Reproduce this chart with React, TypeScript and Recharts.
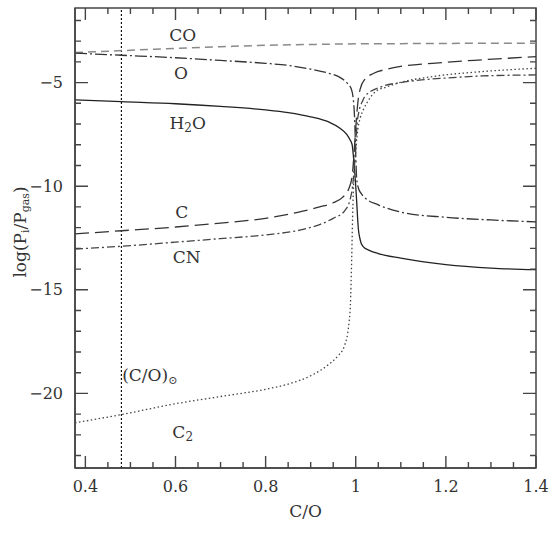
import React from 'react';
import { LineChart, Line, XAxis, YAxis, ReferenceLine, ReferenceDot, ReferenceArea } from 'recharts';

// ---- data (C/O ratio vs log partial pressure) ----
const coX = [0.377, 0.5, 0.6, 0.7, 0.8, 0.9, 1.0, 1.1, 1.2, 1.3, 1.4];
const coY = [-3.55, -3.44, -3.35, -3.27, -3.2, -3.16, -3.13, -3.12, -3.11, -3.1, -3.1];

const oX = [0.377, 0.48, 0.6, 0.7, 0.8, 0.85, 0.9, 0.94, 0.965, 0.98, 0.99, 0.995, 0.998, 1.0, 1.002, 1.006, 1.012, 1.02, 1.05, 1.1, 1.2, 1.3, 1.4];
const oY = [-3.58, -3.68, -3.8, -3.93, -4.07, -4.17, -4.35, -4.55, -4.75, -5.0, -5.3, -5.9, -7.0, -8.5, -9.6, -10.1, -10.35, -10.55, -10.9, -11.25, -11.5, -11.63, -11.72];

const h2oX = [0.377, 0.48, 0.6, 0.7, 0.8, 0.85, 0.9, 0.94, 0.965, 0.98, 0.987, 0.992, 0.995, 0.998, 1.0, 1.002, 1.004, 1.006, 1.009, 1.012, 1.016, 1.03, 1.05, 1.1, 1.2, 1.3, 1.4];
const h2oY = [-5.83, -5.92, -6.02, -6.15, -6.32, -6.45, -6.65, -6.9, -7.2, -7.5, -7.75, -8.0, -8.6, -9.4, -10.0, -10.7, -11.5, -12.1, -12.5, -12.75, -12.9, -13.1, -13.25, -13.47, -13.78, -13.95, -14.03];

const cX = [0.377, 0.48, 0.6, 0.7, 0.8, 0.88, 0.92, 0.95, 0.97, 0.985, 0.992, 0.996, 0.999, 1.002, 1.005, 1.01, 1.02, 1.04, 1.07, 1.1, 1.17, 1.28, 1.4];
const cY = [-12.3, -12.15, -11.97, -11.78, -11.55, -11.22, -11.0, -10.8, -10.55, -10.1, -9.5, -8.5, -7.5, -6.6, -5.9, -5.3, -4.85, -4.55, -4.35, -4.22, -4.07, -3.9, -3.75];

const cnX = [0.377, 0.48, 0.6, 0.7, 0.8, 0.88, 0.92, 0.95, 0.975, 0.988, 0.993, 0.997, 1.0, 1.003, 1.008, 1.015, 1.02, 1.058, 1.1, 1.146, 1.2, 1.28, 1.4];
const cnY = [-13.03, -12.9, -12.7, -12.53, -12.35, -12.1, -11.85, -11.55, -11.2, -10.6, -10.0, -9.0, -8.0, -7.0, -6.3, -5.9, -5.67, -5.19, -5.0, -4.87, -4.78, -4.68, -4.63];

const c2X = [0.377, 0.48, 0.6, 0.7, 0.8, 0.85, 0.9, 0.94, 0.96, 0.975, 0.985, 0.988, 0.991, 0.993, 0.996, 1.0, 1.005, 1.01, 1.017, 1.03, 1.043, 1.07, 1.093, 1.17, 1.28, 1.4];
const c2Y = [-21.42, -21.02, -20.5, -20.15, -19.8, -19.55, -19.15, -18.6, -18.2, -17.7, -16.6, -15.8, -13.5, -11.5, -9.5, -8.3, -7.2, -6.7, -6.3, -5.8, -5.45, -5.2, -5.03, -4.71, -4.47, -4.31];

const solarCO = 0.48;

const xMajorTicks = [0.4, 0.6, 0.8, 1, 1.2, 1.4];
const xAllTicks = [0.4, 0.45, 0.5, 0.55, 0.6, 0.65, 0.7, 0.75, 0.8, 0.85, 0.9, 0.95, 1, 1.05, 1.1, 1.15, 1.2, 1.25, 1.3, 1.35, 1.4];
const yMajorTicks = [-20, -15, -10, -5];
const yAllTicks = [-23, -22, -21, -20, -19, -18, -17, -16, -15, -14, -13, -12, -11, -10, -9, -8, -7, -6, -5, -4, -3, -2];

const xDomain = [0.377, 1.4];
const yDomain = [-23.6, -1.4];

const labelPos = {
  CO: [0.616, -2.7],
  O: [0.612, -4.53],
  H2O: [0.627, -6.95],
  C: [0.614, -11.24],
  CN: [0.625, -13.4],
  solar: [0.543, -19.1],
  C2: [0.616, -21.86],
};

const zip = (xs: number[], ys: number[]) => xs.map((x, i) => ({ x, y: ys[i] }));

const FONT = '"DejaVu Serif", "Liberation Serif", serif';
const TXT = '#333';
const FRAME = '#444';

// layout constants (chart margins + axis sizes)
const W = 560, H = 533;
const M = { top: 8, right: 24, left: 20, bottom: 35 };
const YW = 55, XH = 30;
const PLOT = { left: M.left + YW, right: W - M.right, top: M.top, bottom: H - M.bottom - XH };

const isIn = (arr: number[], v: number) => arr.some((m) => Math.abs(m - v) < 1e-9);

const XTick = (props: any) => {
  const { x, y, payload } = props;
  const v = payload.value;
  const major = isIn(xMajorTicks, v);
  const len = major ? 12 : 6;
  return (
    <g>
      <path d={`M${x},${PLOT.bottom}L${x},${PLOT.bottom - len}M${x},${PLOT.top}L${x},${PLOT.top + len}`} stroke={FRAME} strokeWidth={1.4} fill="none" />
      {major && (
        <text x={x} y={y} dy="0.71em" textAnchor="middle" fontFamily={FONT} fontSize={16} fill={TXT}>
          {String(v)}
        </text>
      )}
    </g>
  );
};

const YTick = (props: any) => {
  const { x, y, payload } = props;
  const v = payload.value;
  const major = isIn(yMajorTicks, v);
  const len = major ? 13 : 6;
  return (
    <g>
      <path d={`M${PLOT.left},${y}L${PLOT.left + len},${y}M${PLOT.right},${y}L${PLOT.right - len},${y}`} stroke={FRAME} strokeWidth={1.4} fill="none" />
      {major && (
        <text x={x} y={y} dy="0.35em" textAnchor="end" fontFamily={FONT} fontSize={16} fill={TXT}>
          {String(v).replace('-', '\u2212')}
        </text>
      )}
    </g>
  );
};

const makeLabel = (parts: React.ReactNode) => (props: any) => {
  const vb = props.viewBox || {};
  return (
    <text x={vb.x} y={vb.y} textAnchor="middle" dominantBaseline="central" fontFamily={FONT} fontSize={17} fill={TXT}>
      {parts}
    </text>
  );
};

export default function App() {
  return (
    <div style={{ position: 'absolute', left: 0, top: 0, background: '#fff' }}>
      <LineChart width={W} height={H} margin={M}>
        <XAxis
          dataKey="x"
          type="number"
          domain={xDomain}
          allowDataOverflow
          ticks={xAllTicks}
          interval={0}
          tickLine={false}
          tickSize={0}
          tickMargin={13}
          height={XH}
          axisLine={{ stroke: FRAME, strokeWidth: 1.5 }}
          tick={XTick}
          label={{ value: 'C/O', position: 'insideBottom', offset: -19, fontFamily: FONT, fontSize: 17, fill: TXT }}
        />
        <YAxis
          type="number"
          domain={yDomain}
          allowDataOverflow
          ticks={yAllTicks}
          interval={0}
          tickLine={false}
          tickSize={0}
          tickMargin={12}
          width={YW}
          axisLine={{ stroke: FRAME, strokeWidth: 1.5 }}
          tick={YTick}
          label={(p: any) => (
            <text transform="rotate(-90, 20, 232)" x={20} y={232} textAnchor="middle" dominantBaseline="central" fontFamily={FONT} fontSize={17} fill={TXT}>
              log(P<tspan dy={5} fontSize={11}>i</tspan><tspan dy={-5}>/P</tspan><tspan dy={5} fontSize={11}>gas</tspan><tspan dy={-5}>)</tspan>
            </text>
          )}
        />

        <ReferenceArea x1={xDomain[0]} x2={xDomain[1]} y1={yDomain[0]} y2={yDomain[1]} fill="none" fillOpacity={0} stroke={FRAME} strokeWidth={1.5} ifOverflow="visible" />

        <ReferenceLine x={solarCO} stroke="#111" strokeWidth={1.2} strokeDasharray="2 2" />

        <Line data={zip(coX, coY)} dataKey="y" type="monotone" stroke="#8a8a8a" strokeWidth={1.5} strokeDasharray="8 5" dot={false} isAnimationActive={false} />
        <Line data={zip(oX, oY)} dataKey="y" type="monotone" stroke="#333" strokeWidth={1.3} strokeDasharray="12 3 2 3" dot={false} isAnimationActive={false} />
        <Line data={zip(h2oX, h2oY)} dataKey="y" type="monotone" stroke="#222" strokeWidth={1.3} dot={false} isAnimationActive={false} />
        <Line data={zip(cX, cY)} dataKey="y" type="monotone" stroke="#333" strokeWidth={1.3} strokeDasharray="14 6" dot={false} isAnimationActive={false} />
        <Line data={zip(cnX, cnY)} dataKey="y" type="monotone" stroke="#444" strokeWidth={1.3} strokeDasharray="8 3 2 3" dot={false} isAnimationActive={false} />
        <Line data={zip(c2X, c2Y)} dataKey="y" type="monotone" stroke="#444" strokeWidth={1.3} strokeDasharray="1.5 2.5" dot={false} isAnimationActive={false} />

        <ReferenceDot x={labelPos.CO[0]} y={labelPos.CO[1]} r={0} stroke="none" label={makeLabel('CO')} />
        <ReferenceDot x={labelPos.O[0]} y={labelPos.O[1]} r={0} stroke="none" label={makeLabel('O')} />
        <ReferenceDot x={labelPos.H2O[0]} y={labelPos.H2O[1]} r={0} stroke="none" label={makeLabel(<>H<tspan dy={5} fontSize={12}>2</tspan><tspan dy={-5}>O</tspan></>)} />
        <ReferenceDot x={labelPos.C[0]} y={labelPos.C[1]} r={0} stroke="none" label={makeLabel('C')} />
        <ReferenceDot x={labelPos.CN[0]} y={labelPos.CN[1]} r={0} stroke="none" label={makeLabel('CN')} />
        <ReferenceDot x={labelPos.solar[0]} y={labelPos.solar[1]} r={0} stroke="none" label={makeLabel(<>(C/O)<tspan dy={5} fontSize={11}>{'\u2299'}</tspan></>)} />
        <ReferenceDot x={labelPos.C2[0]} y={labelPos.C2[1]} r={0} stroke="none" label={makeLabel(<>C<tspan dy={5} fontSize={12}>2</tspan></>)} />
      </LineChart>
    </div>
  );
}
